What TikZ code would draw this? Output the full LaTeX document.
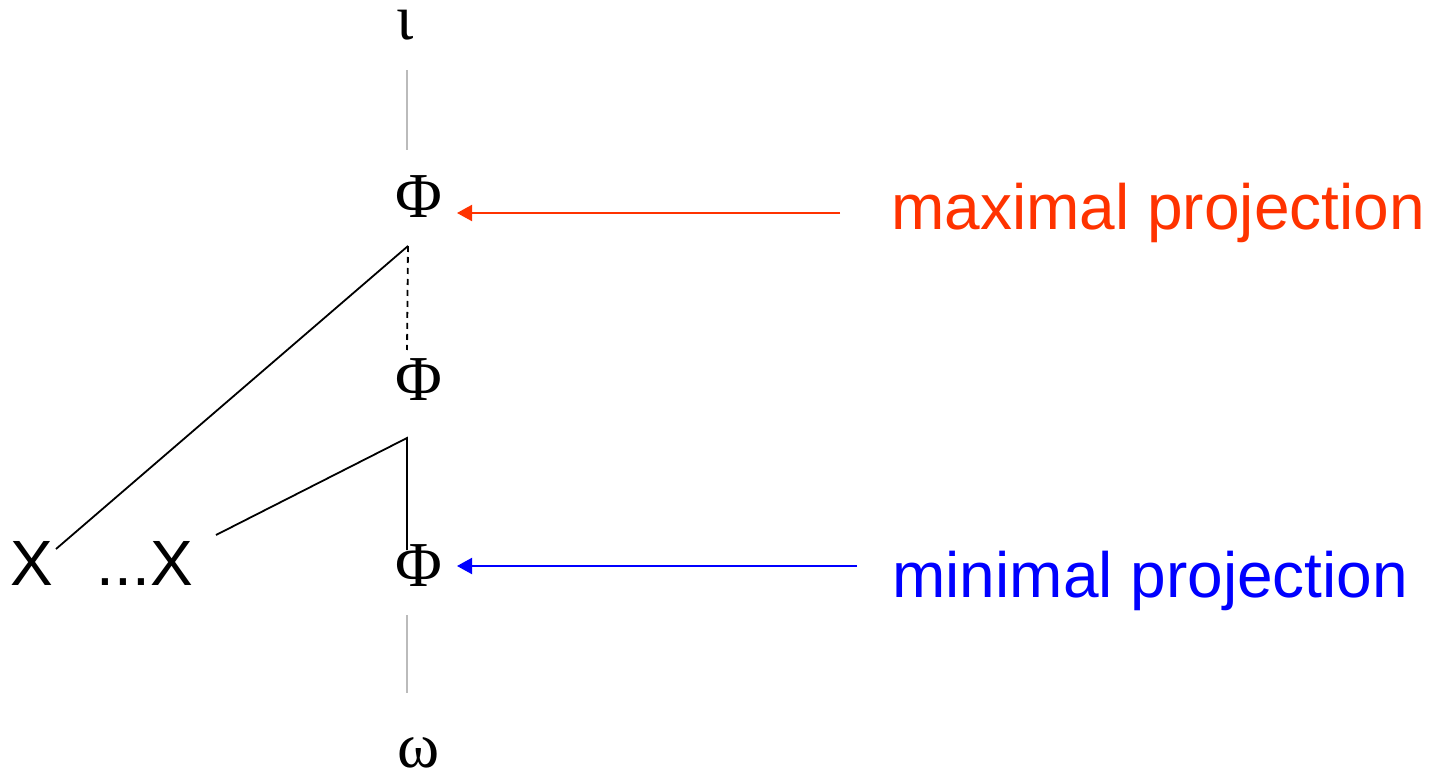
\documentclass[tikz,border=0pt]{standalone}
\usepackage{fontspec}
\setmainfont{Liberation Serif}
\setsansfont{Liberation Sans}
\usepackage{xcolor}
\usepackage{tikz}
\usetikzlibrary{arrows.meta}
\definecolor{maxred}{HTML}{FF3300}
\definecolor{minblue}{HTML}{0000FF}
\definecolor{spine}{HTML}{BBBBBB}

\begin{document}
\begin{tikzpicture}[x=0.5pt,y=-0.5pt,
  greek/.style={font=\fontsize{32}{32}\selectfont,inner sep=0pt},
  word/.style={font=\sffamily\fontsize{32}{32}\selectfont,inner sep=0pt},
  branch/.style={line width=0.9pt,black},
  ptr/.style={line width=1pt,-{Triangle[length=7.5pt,width=8pt]}}]
\useasboundingbox (0,0) rectangle (1431,775);
% the projection line
\node[greek] (iota) at (405,25) {ι};
\node[greek] (phimax) at (419,197) {Φ};
\node[greek] (phimid) at (419,380) {Φ};
\node[greek] (phimin) at (419,566) {Φ};
\node[greek] (omega) at (419,753) {ω};
\coordinate (iotafoot) at (407,70);
\coordinate (maxhead) at (407,150);
\coordinate (maxfoot) at (408,246);
\coordinate (midhead) at (407,350);
\coordinate (midfoot) at (407,438);
\coordinate (minhead) at (407,550);
\coordinate (minfoot) at (407,615);
\coordinate (omegahead) at (407,693);
\draw[spine,line width=1pt] (iotafoot)--(maxhead);
\draw[spine,line width=1pt] (minfoot)--(omegahead);
\draw[branch,dash pattern=on 3pt off 2.5pt] (maxfoot)--(midhead);
% the daughters
\node[word] (xone) at (32,563) {X};
\node[word] (xtwo) at (145,563) {...X};
\coordinate (xonetop) at (56,549);
\coordinate (xtwotop) at (216,535);
\draw[branch] (xonetop)--(maxfoot);
\draw[branch] (xtwotop)--(midfoot)--(minhead);
% labels
\node[word,anchor=base west,text=maxred] (maxlab) at (891,230) {maximal projection};
\node[word,anchor=base west,text=minblue] (minlab) at (892,597) {minimal projection};
\coordinate (maxtail) at (840,213);
\coordinate (maxtip) at (457,213);
\coordinate (mintail) at (857,566);
\coordinate (mintip) at (457,566);
\draw[ptr,maxred] (maxtail)--(maxtip);
\draw[ptr,minblue] (mintail)--(mintip);
\end{tikzpicture}
\end{document}
